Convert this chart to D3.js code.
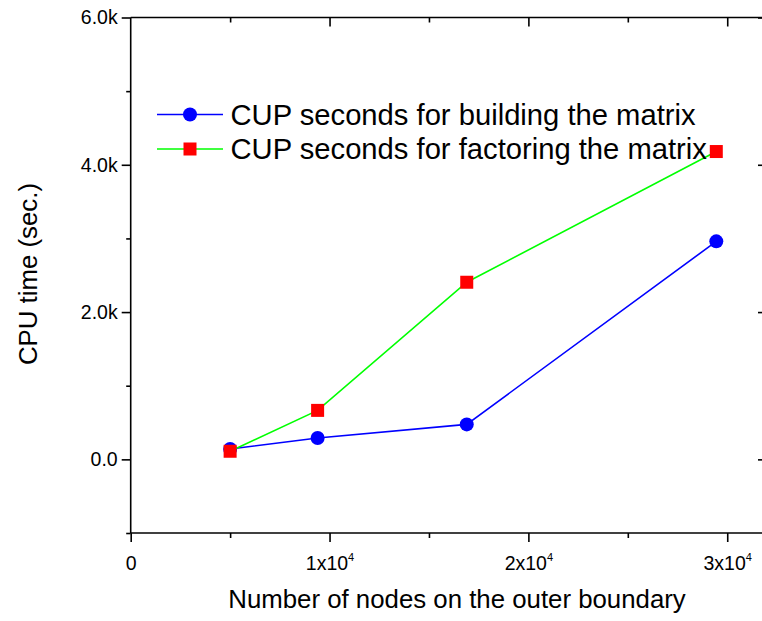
<!DOCTYPE html>
<html>
<head>
<meta charset="utf-8">
<script src="https://cdn.jsdelivr.net/npm/d3@7"></script>
<style>
  html, body { margin: 0; padding: 0; background: #ffffff; }
  svg { display: block; }
  text { font-family: "Liberation Sans", Arial, sans-serif; fill: #000; }
</style>
</head>
<body>
<svg id="chart" width="762" height="621"></svg>
<script>
// Number of nodes on the outer boundary
const nodes = [5000, 9400, 16900, 29450];
// CPU seconds spent building the matrix
const buildSeconds = [140, 290, 475, 2960];
// CPU seconds spent factoring the matrix
const factorSeconds = [110, 665, 2405, 4180];

const seriesNames = [
  "CUP seconds for building the matrix",
  "CUP seconds for factoring the matrix"
];
const yMajorTicks = [0, 2000, 4000, 6000];
const yTickLabels = ["0.0", "2.0k", "4.0k", "6.0k"];
const yMinorTicks = [-1000, 1000, 3000, 5000];
const xMajorTicks = [0, 10000, 20000, 30000];
const xTickMantissa = ["0", "1x10", "2x10", "3x10"];
const xMinorTicks = [5000, 15000, 25000];

const svg = d3.select("#chart");
const plotLeft = 130.7, plotRight = 767, plotTop = 17.5, plotBottom = 533;

const x = d3.scaleLinear().domain([0, 32000]).range([plotLeft, plotRight]);
const y = d3.scaleLinear().domain([-1000, 6000]).range([plotBottom, plotTop]);

const axisStroke = 1.6;

function styleTicks(g) {
  g.select(".domain").remove();
  g.selectAll(".tick line").attr("stroke", "#000").attr("stroke-width", axisStroke);
}

// frame lines
const frame = svg.append("g").attr("stroke", "#000").attr("stroke-width", axisStroke);
frame.append("line").attr("x1", plotLeft).attr("x2", plotLeft).attr("y1", plotTop).attr("y2", plotBottom);
frame.append("line").attr("x1", plotLeft).attr("x2", plotRight).attr("y1", plotBottom).attr("y2", plotBottom);
frame.append("line").attr("x1", plotLeft).attr("x2", plotRight).attr("y1", plotTop).attr("y2", plotTop);
frame.append("line").attr("x1", plotRight).attr("x2", plotRight).attr("y1", plotTop).attr("y2", plotBottom);

// left axis: outward ticks with labels
const gl = svg.append("g").attr("transform", `translate(${plotLeft},0)`)
  .call(d3.axisLeft(y)
    .tickValues(yMajorTicks)
    .tickFormat((d, i) => yTickLabels[i])
    .tickSize(9)
    .tickPadding(4));
styleTicks(gl);
gl.selectAll(".tick text")
  .style("font-family", '"Liberation Sans", Arial, sans-serif')
  .style("font-size", "19.5px").attr("fill", "#000");

styleTicks(svg.append("g").attr("transform", `translate(${plotLeft},0)`)
  .call(d3.axisLeft(y).tickValues(yMinorTicks).tickFormat("").tickSize(4.5)));

// right axis: inward ticks
styleTicks(svg.append("g").attr("transform", `translate(${plotRight},0)`)
  .call(d3.axisRight(y).tickValues(yMajorTicks).tickFormat("").tickSize(-9)));
styleTicks(svg.append("g").attr("transform", `translate(${plotRight},0)`)
  .call(d3.axisRight(y).tickValues(yMinorTicks).tickFormat("").tickSize(-4.5)));

// bottom axis: outward ticks, labels with superscript exponent
const gb = svg.append("g").attr("transform", `translate(0,${plotBottom})`)
  .call(d3.axisBottom(x).tickValues(xMajorTicks).tickFormat("").tickSize(9));
styleTicks(gb);
gb.selectAll(".tick").each(function (d, i) {
  const t = d3.select(this).append("text")
    .attr("y", 37)
    .attr("text-anchor", "middle")
    .style("font-family", '"Liberation Sans", Arial, sans-serif')
    .style("font-size", "19.5px")
    .attr("fill", "#000");
  t.append("tspan").text(xTickMantissa[i]);
  if (i > 0) {
    t.append("tspan").text("4")
      .attr("dy", -9)
      .style("font-size", "11px");
  }
});
styleTicks(svg.append("g").attr("transform", `translate(0,${plotBottom})`)
  .call(d3.axisBottom(x).tickValues(xMinorTicks).tickFormat("").tickSize(5)));

// top axis: inward ticks
styleTicks(svg.append("g").attr("transform", `translate(0,${plotTop})`)
  .call(d3.axisTop(x).tickValues(xMajorTicks.slice(1)).tickFormat("").tickSize(-9)));
styleTicks(svg.append("g").attr("transform", `translate(0,${plotTop})`)
  .call(d3.axisTop(x).tickValues(xMinorTicks).tickFormat("").tickSize(-5)));

// axis titles
svg.append("text")
  .attr("x", 457)
  .attr("y", 608)
  .attr("text-anchor", "middle")
  .style("font-size", "25.8px")
  .text("Number of nodes on the outer boundary");

svg.append("text")
  .attr("transform", "translate(37,274) rotate(-90)")
  .attr("text-anchor", "middle")
  .style("font-size", "25.8px")
  .text("CPU time (sec.)");

// series
const line = d3.line().x(d => x(d[0])).y(d => y(d[1]));
const buildPts = nodes.map((n, i) => [n, buildSeconds[i]]);
const factorPts = nodes.map((n, i) => [n, factorSeconds[i]]);

svg.append("path").datum(buildPts)
  .attr("d", line).attr("fill", "none")
  .attr("stroke", "#0000ff").attr("stroke-width", 1.6);
svg.append("g").selectAll("circle").data(buildPts).join("circle")
  .attr("cx", d => x(d[0])).attr("cy", d => y(d[1]))
  .attr("r", 7).attr("fill", "#0000ff");

svg.append("path").datum(factorPts)
  .attr("d", line).attr("fill", "none")
  .attr("stroke", "#00ff00").attr("stroke-width", 1.6);
svg.append("g").selectAll("rect").data(factorPts).join("rect")
  .attr("x", d => x(d[0]) - 6.5).attr("y", d => y(d[1]) - 6.5)
  .attr("width", 13).attr("height", 13).attr("fill", "#ff0000");

// legend
const legend = svg.append("g");
const legendRows = [
  { name: seriesNames[0], color: "#0000ff", marker: "circle", cy: 114.5 },
  { name: seriesNames[1], color: "#00ff00", marker: "square", cy: 149 }
];
legendRows.forEach(r => {
  legend.append("line")
    .attr("x1", 157).attr("x2", 223)
    .attr("y1", r.cy).attr("y2", r.cy)
    .attr("stroke", r.color).attr("stroke-width", 1.6);
  if (r.marker === "circle") {
    legend.append("circle").attr("cx", 190).attr("cy", r.cy).attr("r", 7).attr("fill", "#0000ff");
  } else {
    legend.append("rect").attr("x", 183.5).attr("y", r.cy - 6.5)
      .attr("width", 13).attr("height", 13).attr("fill", "#ff0000");
  }
  legend.append("text")
    .attr("x", 230.5).attr("y", r.cy + 10)
    .style("font-size", "29.2px")
    .text(r.name);
});
</script>
</body>
</html>
